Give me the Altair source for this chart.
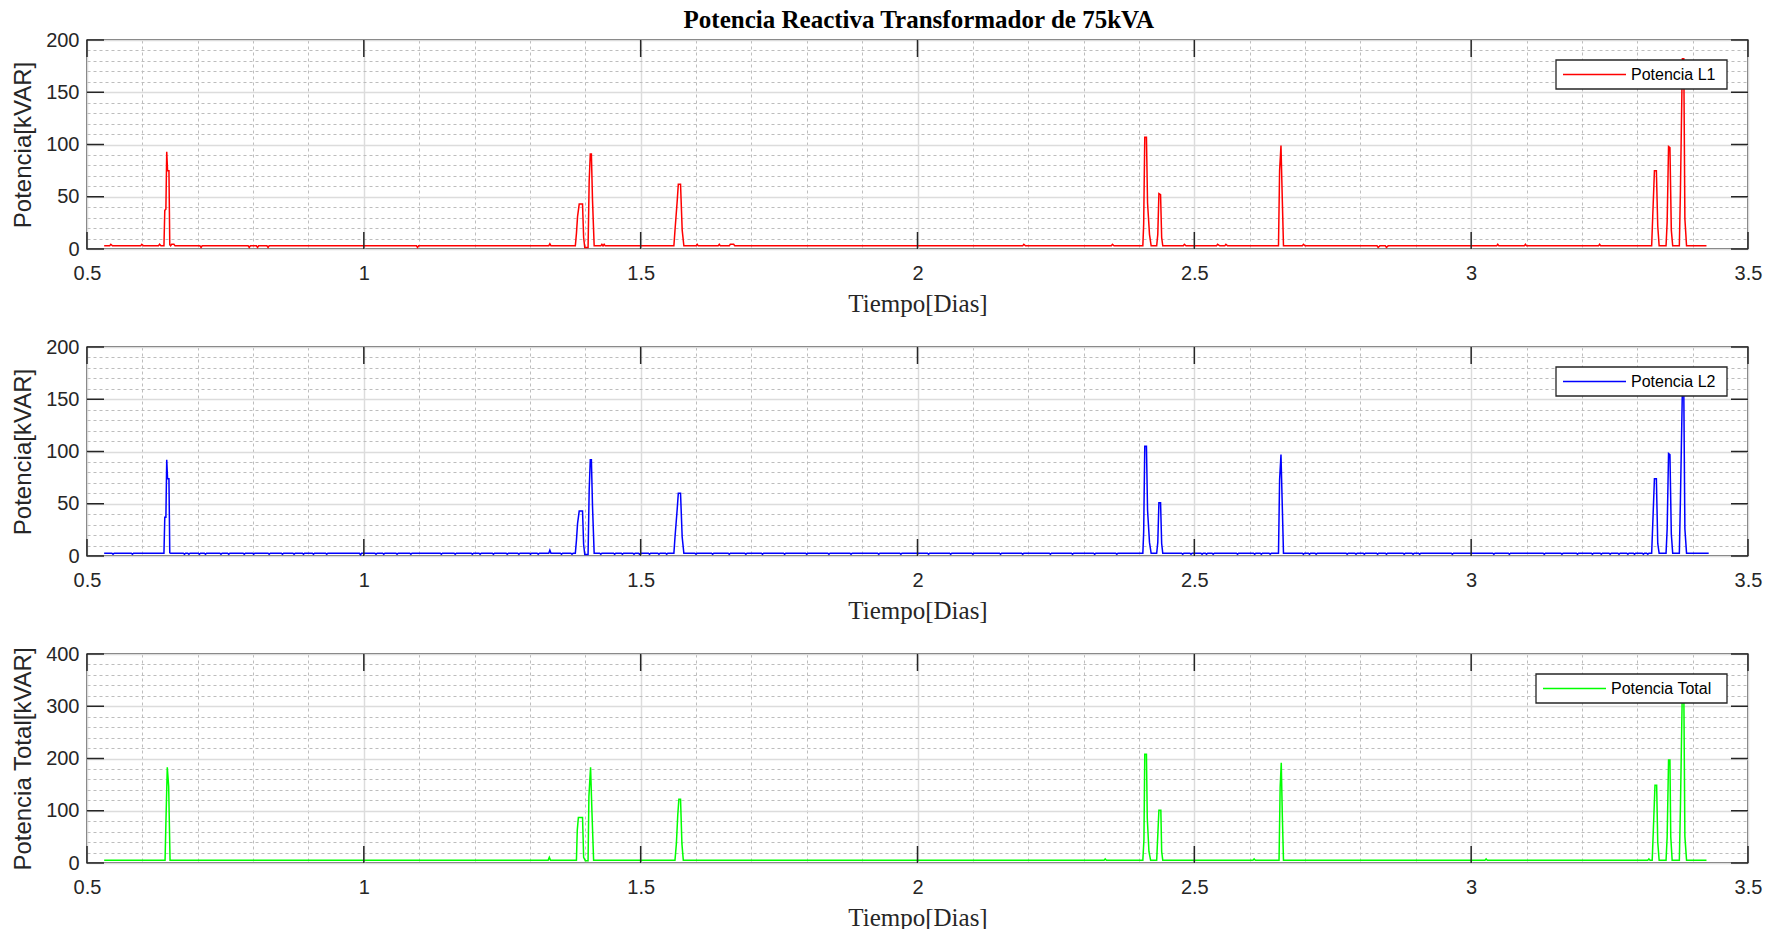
import altair as alt
import pandas as pd

TITLE = "Potencia Reactiva Transformador de 75kVA"
X_TITLE = "Tiempo[Dias]"

# ---------------- data ----------------
# Potencia L1 (t [dias], kVAR)
l1_points = [
    (0.531, 3), (0.541, 3), (0.543, 4.5), (0.546, 3), (0.597, 3), (0.599, 4.5), (0.602, 3),
    (0.629, 3), (0.631, 4.5), (0.6335, 3),
    (0.639, 3), (0.6405, 37), (0.6425, 38), (0.644, 93), (0.6455, 75), (0.648, 75), (0.6495, 4),
    (0.651, 3), (0.653, 4.5), (0.657, 4.5), (0.659, 3),
    (0.704, 3), (0.706, 1.5), (0.708, 3), (0.791, 3), (0.793, 1.5), (0.795, 3),
    (0.806, 3), (0.808, 1.5), (0.810, 3), (0.825, 3), (0.827, 1.5), (0.829, 3),
    (1.095, 3), (1.097, 1.5), (1.099, 3), (1.334, 3), (1.336, 5), (1.338, 3),
    (1.382, 3), (1.384, 15), (1.386, 31), (1.389, 43), (1.395, 43), (1.397, 11), (1.399, 1.5),
    (1.405, 1.5), (1.407, 65), (1.409, 91), (1.411, 91), (1.413, 47), (1.416, 3),
    (1.428, 3), (1.430, 4.5), (1.432, 3), (1.434, 4.5), (1.436, 3),
    (1.560, 3), (1.562, 18), (1.566, 46), (1.568, 62), (1.572, 62), (1.575, 18), (1.578, 3),
    (1.600, 3), (1.602, 4.5), (1.604, 3), (1.640, 3), (1.642, 4.5), (1.644, 3),
    (1.660, 3), (1.662, 4.5), (1.668, 4.5), (1.670, 3),
    (2.190, 3), (2.192, 4.5), (2.195, 3), (2.350, 3), (2.352, 4.5), (2.355, 3),
    (2.407, 3), (2.4085, 24), (2.4105, 107), (2.4135, 107), (2.4155, 44), (2.419, 14), (2.422, 3),
    (2.432, 3), (2.434, 14), (2.436, 53), (2.439, 52), (2.441, 11), (2.443, 3),
    (2.480, 3), (2.482, 4.5), (2.485, 3), (2.540, 3), (2.542, 4.5), (2.546, 3),
    (2.555, 3), (2.557, 4.5), (2.560, 3),
    (2.652, 3), (2.654, 75), (2.6565, 99), (2.659, 45), (2.661, 3),
    (2.695, 3), (2.697, 4.5), (2.700, 3), (2.830, 3), (2.832, 1.5), (2.835, 3),
    (2.845, 3), (2.847, 1.5), (2.850, 3),
    (3.046, 3), (3.048, 4.5), (3.050, 3), (3.096, 3), (3.098, 4.5), (3.100, 3),
    (3.230, 3), (3.232, 4.5), (3.234, 3),
    (3.326, 3), (3.328, 32), (3.331, 75), (3.3345, 75), (3.337, 22), (3.3395, 3),
    (3.352, 3), (3.354, 26), (3.3565, 98), (3.359, 97), (3.3615, 18), (3.364, 3),
    (3.376, 3), (3.378, 57), (3.3815, 182), (3.384, 182), (3.386, 29), (3.389, 3),
    (3.425, 3),
]

# Potencia L2: baseline, spikes and the small dips of its baseline
l2_base = 2.6
l2_ends = [(0.531, 2.6), (3.429, 2.6)]
l2_spikes = [
    (0.639, 2.6), (0.6405, 37), (0.6425, 37), (0.644, 92), (0.6455, 74), (0.648, 74), (0.6495, 3), (0.651, 2.6),
    (1.382, 2.6), (1.384, 15), (1.386, 31), (1.389, 43), (1.395, 43), (1.397, 11), (1.399, 1.5),
    (1.405, 1.5), (1.407, 63), (1.409, 92), (1.411, 92), (1.413, 48), (1.416, 2.6),
    (1.560, 2.6), (1.562, 18), (1.566, 45), (1.568, 60), (1.572, 60), (1.575, 18), (1.578, 2.6),
    (2.407, 2.6), (2.4085, 23), (2.4105, 105), (2.4135, 105), (2.4155, 44), (2.419, 13), (2.422, 2.6),
    (2.432, 2.6), (2.434, 13), (2.436, 51), (2.439, 51), (2.441, 12), (2.443, 2.6),
    (2.652, 2.6), (2.654, 73), (2.6565, 97), (2.659, 45), (2.661, 2.6),
    (3.326, 2.6), (3.328, 31), (3.331, 74), (3.3345, 74), (3.337, 12), (3.3395, 2.6),
    (3.352, 2.6), (3.354, 26), (3.3565, 98), (3.359, 97), (3.3615, 21), (3.364, 2.6),
    (3.376, 2.6), (3.378, 55), (3.3815, 160), (3.384, 160), (3.386, 26), (3.389, 2.6),
]
l2_dips = [
    (0.547, 1.6), (0.582, 1.6), (0.676, 1.6), (0.684, 1.6), (0.703, 1.6), (0.714, 1.6),
    (0.742, 1.6), (0.756, 1.6), (0.784, 1.6), (0.801, 1.6), (0.829, 1.6), (0.853, 1.6),
    (0.874, 1.6), (0.891, 1.6), (0.909, 1.6), (0.933, 1.6), (0.994, 1.2), (1.022, 1.6),
    (1.036, 1.6), (1.060, 1.6), (1.085, 1.6), (1.140, 1.6), (1.165, 1.6), (1.196, 1.6),
    (1.210, 1.6), (1.234, 1.6), (1.259, 1.6), (1.280, 1.6), (1.301, 1.6), (1.315, 1.6),
    (1.336, 5.5), (1.357, 1.6), (1.376, 1.6), (1.428, 1.6), (1.453, 1.6), (1.467, 1.6),
    (1.488, 1.6), (1.498, 1.6), (1.516, 1.6), (1.533, 1.6), (1.547, 1.6),
    (1.600, 1.6), (1.630, 1.6), (1.660, 1.6), (1.690, 1.6), (1.720, 1.6), (1.760, 1.6),
    (1.800, 1.6), (1.840, 1.6), (1.880, 1.6), (1.930, 1.6), (1.970, 1.6), (2.020, 1.6),
    (2.060, 1.6), (2.100, 1.6), (2.150, 1.6), (2.190, 1.6), (2.240, 1.6), (2.280, 1.6),
    (2.320, 1.6), (2.360, 1.6), (2.479, 1.6), (2.494, 1.6), (2.514, 1.6), (2.522, 1.6),
    (2.534, 1.6), (2.578, 1.6), (2.609, 1.6), (2.621, 1.6), (2.637, 1.6), (2.697, 1.6),
    (2.708, 1.6), (2.720, 1.6), (2.776, 1.6), (2.792, 1.6), (2.807, 1.6), (2.831, 1.6),
    (2.847, 1.6), (2.879, 1.6), (2.895, 1.6), (2.907, 1.6), (2.966, 1.6), (3.041, 1.6),
    (3.069, 1.6), (3.132, 1.6), (3.164, 1.6), (3.192, 1.6), (3.219, 1.6), (3.235, 1.6),
    (3.251, 1.6), (3.267, 1.6), (3.283, 1.6), (3.295, 1.6), (3.311, 1.6), (3.319, 1.6),
]

# Potencia Total
tot_points = [
    (0.531, 5.5), (0.641, 5.5), (0.6425, 76), (0.645, 183), (0.6475, 147), (0.650, 5.5),
    (1.333, 5.5), (1.335, 11), (1.337, 5.5),
    (1.384, 5.5), (1.3855, 63), (1.3875, 87), (1.395, 87), (1.396, 50), (1.397, 11), (1.400, 4.5),
    (1.405, 4.5), (1.4065, 127), (1.4095, 183), (1.412, 98), (1.415, 5.5),
    (1.562, 5.5), (1.5645, 37), (1.567, 92), (1.569, 122), (1.572, 122), (1.5745, 37), (1.577, 5.5),
    (2.337, 5.5), (2.339, 8), (2.341, 5.5),
    (2.407, 5.5), (2.409, 45), (2.4105, 208), (2.4135, 208), (2.415, 86), (2.418, 22), (2.421, 5.5),
    (2.432, 5.5), (2.433, 29), (2.436, 101), (2.4395, 101), (2.441, 22), (2.443, 5.5),
    (2.606, 5.5), (2.608, 8), (2.610, 5.5),
    (2.653, 5.5), (2.655, 145), (2.657, 192), (2.659, 88), (2.661, 5.5),
    (3.025, 5.5), (3.027, 8), (3.029, 5.5), (3.319, 5.5), (3.321, 8), (3.323, 5.5),
    (3.327, 5.5), (3.329, 62), (3.332, 149), (3.335, 149), (3.337, 40), (3.3395, 5.5),
    (3.352, 5.5), (3.354, 50), (3.3565, 197), (3.359, 197), (3.3605, 50), (3.363, 5.5),
    (3.376, 5.5), (3.378, 110), (3.3815, 340), (3.384, 340), (3.386, 51), (3.389, 5.5),
    (3.425, 5.5),
]

x_major = [0.5, 1.0, 1.5, 2.0, 2.5, 3.0, 3.5]
x_grid = [round(0.5 + 0.1 * i, 1) for i in range(31)]
y_major_200 = [0, 50, 100, 150, 200]
y_grid_200 = list(range(0, 201, 10))
y_major_400 = [0, 100, 200, 300, 400]
y_grid_400 = list(range(0, 401, 20))

# ---------------- build ----------------
def l2_all():
    pts = list(l2_ends) + list(l2_spikes)
    for t, v in l2_dips:
        pts += [(t - 0.002, l2_base), (t, v), (t + 0.002, l2_base)]
    return sorted(pts)

W, H = 1661, 209
TICK = 17
INK = "#262626"
XMAJ = "abs(datum.value*2 - round(datum.value*2)) < 0.001"


def panel(points, name, color, ymax, ymajor_step, ygrid, yticks, ytitle, box_w):
    df = pd.DataFrame(points, columns=["t", "v"])
    ymaj = f"datum.value % {ymajor_step} == 0"
    x_enc = alt.X(
        "t:Q",
        scale=alt.Scale(domain=[0.5, 3.5], nice=False, zero=False),
        axis=alt.Axis(
            values=x_grid, format="~g",
            labelExpr=f"{XMAJ} ? datum.label : ''",
            labelFlush=False, labelOverlap=False, ticks=False, domain=False,
            grid=True,
            gridColor={"condition": {"test": XMAJ, "value": "#dcdcdc"}, "value": "#bdbdbd"},
            gridDash={"condition": {"test": XMAJ, "value": []}, "value": [3, 3]},
            gridWidth={"condition": {"test": XMAJ, "value": 1.5}, "value": 1},
            labelFont="Liberation Sans", labelFontSize=20, labelColor=INK, labelPadding=14,
            title=X_TITLE, titleFont="Liberation Serif", titleFontSize=25,
            titleFontWeight="normal", titleColor=INK, titlePadding=8,
        ),
    )
    y_enc = alt.Y(
        "v:Q",
        scale=alt.Scale(domain=[0, ymax], nice=False),
        axis=alt.Axis(
            values=ygrid, format="d",
            labelExpr=f"{ymaj} ? datum.label : ''",
            labelOverlap=False, ticks=False, domain=False,
            grid=True,
            gridColor={"condition": {"test": ymaj, "value": "#dcdcdc"}, "value": "#bdbdbd"},
            gridDash={"condition": {"test": ymaj, "value": []}, "value": [3, 3]},
            gridWidth={"condition": {"test": ymaj, "value": 1.5}, "value": 1},
            labelFont="Liberation Sans", labelFontSize=20, labelColor=INK, labelPadding=8,
            title=ytitle, titleFont="Liberation Sans", titleFontSize=24,
            titleFontWeight="normal", titleColor=INK, titlePadding=10,
        ),
    )
    line = alt.Chart(df).mark_line(strokeWidth=1.5, clip=True, color=color).encode(x=x_enc, y=y_enc)

    xt = pd.DataFrame({"t": x_major})
    yt = pd.DataFrame({"v": yticks})
    tick = dict(color=INK, strokeWidth=1.5)
    top = alt.Chart(xt).mark_rule(**tick).encode(x=x_enc, y=alt.value(0), y2=alt.value(TICK))
    bot = alt.Chart(xt).mark_rule(**tick).encode(x=x_enc, y=alt.value(H), y2=alt.value(H - TICK))
    lft = alt.Chart(yt).mark_rule(**tick).encode(y=y_enc, x=alt.value(0), x2=alt.value(TICK))
    rgt = alt.Chart(yt).mark_rule(**tick).encode(y=y_enc, x=alt.value(W), x2=alt.value(W - TICK))

    # legend box (upper right, inside the axes)
    leg = pd.DataFrame({"serie": [name]})
    x0 = W - 21 - box_w
    box = alt.Chart(leg).mark_rect(fill="white", stroke=INK, strokeWidth=1.3).encode(
        x=alt.value(x0), x2=alt.value(W - 21), y=alt.value(20), y2=alt.value(49))
    sample = alt.Chart(leg).mark_rule(color=color, strokeWidth=1.5).encode(
        x=alt.value(x0 + 7), x2=alt.value(x0 + 70), y=alt.value(34.5))
    label = alt.Chart(leg).mark_text(
        align="left", baseline="middle", font="Liberation Sans", fontSize=16, color="#000"
    ).encode(x=alt.value(x0 + 75), y=alt.value(35), text="serie:N")

    return alt.layer(line, top, bot, lft, rgt, box, sample, label).properties(width=W, height=H)


p1 = panel(l1_points, "Potencia L1", "#ff0000", 200, 50, y_grid_200, y_major_200, "Potencia[kVAR]", 171)
p2 = panel(l2_all(), "Potencia L2", "#0000ff", 200, 50, y_grid_200, y_major_200, "Potencia[kVAR]", 171)
p3 = panel(tot_points, "Potencia Total", "#00ff00", 400, 100, y_grid_400, y_major_400, "Potencia Total[kVAR]", 191)

chart = (
    alt.vconcat(p1, p2, p3, spacing=19)
    .properties(
        title=alt.TitleParams(
            TITLE, font="Liberation Serif", fontSize=25, fontWeight="bold",
            color="#000", anchor="middle", dx=32, offset=-4,
        ),
        padding={"left": 10, "top": 8, "right": 10, "bottom": 0},
        background="white",
    )
    .configure_view(stroke="#404040", strokeWidth=1.5)
)

chart.save("out.html", embed_options={"renderer": "svg", "actions": False})
